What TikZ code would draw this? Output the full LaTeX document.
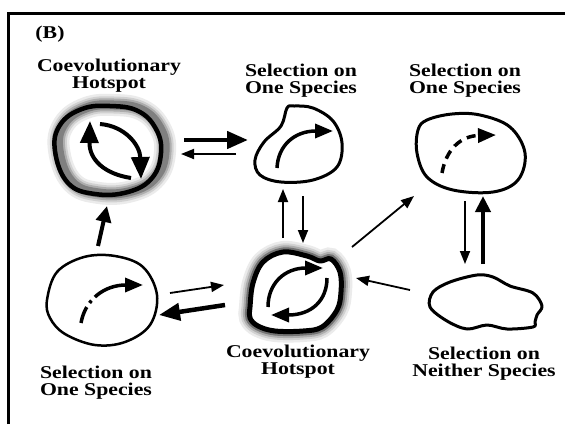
\documentclass[tikz,border=0pt]{standalone}
\usepackage{fontspec}
\newfontfamily\lbl{Liberation Serif}[FakeStretch=1.21]
\usetikzlibrary{arrows.meta}
\newcommand\tlshape[1]{\draw[#1] plot[smooth cycle, tension=0.7] coordinates {(55,151) (60,125) (82,109) (110,106) (138,111) (156,129) (161,153) (152,178) (128,192) (95,194) (68,183)};}
\newcommand\cshape[1]{\path[#1] plot[smooth cycle, tension=0.6] coordinates {(250,307) (253,283) (263,262) (283,252) (307,256) (320,261) (331,259) (340,272) (341,292) (337,310) (322,327) (303,331) (275,331) (258,326) (250,318)};}
\begin{document}
\begin{tikzpicture}[x=1pt,y=-1pt,
  lab/.style={align=center,font=\lbl\bfseries\fontsize{18}{17}\selectfont,inner sep=0pt},
  outline/.style={line width=3pt,line join=round},
  thickarr/.style={line width=4.5pt,-{Triangle[length=21pt,width=17pt]}},
  medarr/.style={line width=4pt,-{Triangle[length=16pt,width=15pt]}},
  thinarr/.style={line width=1.8pt,-{Triangle[length=13pt,width=10pt]}},
  inarr/.style={line width=4pt,-{Triangle[length=22pt,width=18pt]}},
  smallinarr/.style={line width=3.5pt,-{Triangle[length=18pt,width=14pt]}},
]
\useasboundingbox (0,0) rectangle (565,424);
\fill[white] (0,0) rectangle (565,424);
% frame
\draw[line width=3pt] (8.5,424) -- (8.5,13.5) -- (565,13.5);

% top-left hotspot
\begin{scope}[shift={(4,-1)}]
\tlshape{line width=22pt,black!8}
\tlshape{line width=17pt,black!18}
\tlshape{line width=13pt,black!32}
\tlshape{line width=9pt,black!50}
\end{scope}
\tlshape{line width=4.5pt,black}
\draw[inarr] (100,124) .. controls (125,126) and (140,145) .. (141,179);
\draw[inarr] (131,178) .. controls (105,174) and (89,160) .. (90,121);

% top-middle patch
\draw[outline] plot[smooth cycle, tension=0.6] coordinates {(287,108) (281,126) (264,142) (255,160) (260,175) (281,182) (313,180) (337,167) (342,143) (333,121) (313,108) (294,106)};
\draw[smallinarr] (277,168) .. controls (278,145) and (295,131) .. (333,131);

% top-right patch
\draw[outline] plot[smooth cycle, tension=0.6] coordinates {(427,120) (452,114) (480,115) (510,127) (525,153) (518,180) (493,192) (453,190) (427,177) (417,153) (418,130)};
\draw[smallinarr, dash pattern=on 9pt off 6pt] (442,173) .. controls (446,150) and (460,136) .. (496,135);

% bottom-left patch
\draw[outline, line width=2.5pt] plot[smooth cycle, tension=0.6] coordinates {(47,300) (57,272) (84,257) (115,256) (143,267) (157,295) (150,325) (125,342) (95,345) (65,334) (50,318)};
\draw[smallinarr, dash pattern=on 17pt off 5pt on 3pt off 5pt on 200pt] (81,323) .. controls (85,300) and (104,285) .. (143,285);

% bottom-centre hotspot
\cshape{draw,line width=22pt,black!8}
\cshape{draw,line width=17pt,black!18}
\cshape{draw,line width=13pt,black!32}
\cshape{draw,line width=9pt,black!55}
\cshape{fill=white}
\cshape{draw,line width=5pt,black,line join=round}
\draw[smallinarr] (268,307) .. controls (268,283) and (285,268) .. (323,268);
\draw[smallinarr] (327,278) .. controls (327,300) and (312,315) .. (271,315);

% bottom-right patch
\draw[outline] plot[smooth cycle, tension=0.55] coordinates {(450,282) (477,275) (493,277) (510,286) (533,293) (542,306) (537,315) (535,322) (533,327) (507,329) (487,325) (467,329) (447,321) (430,307) (433,292)};

% labels
\node[lab] (panel) at (50,34) {(B)};
\node[lab] (l1) at (109,76) {Coevolutionary\\Hotspot};
\node[lab] (l2) at (301,81) {Selection on\\One Species};
\node[lab] (l3) at (465,81) {Selection on\\One Species};
\node[lab] (l4) at (96,383) {Selection on\\One Species};
\node[lab] (l5) at (298,362) {Coevolutionary\\Hotspot};
\node[lab] (l6) at (484,364) {Selection on\\Neither Species};

% connector end points
\coordinate (a1s) at (184,140); \coordinate (a1e) at (248,140);
\coordinate (a2s) at (236,154); \coordinate (a2e) at (181,154);
\coordinate (a3s) at (283,238); \coordinate (a3e) at (283,189);
\coordinate (a4s) at (303,196); \coordinate (a4e) at (303,243);
\coordinate (a5s) at (352,247); \coordinate (a5e) at (414,196);
\coordinate (a6s) at (465,201); \coordinate (a6e) at (465,264);
\coordinate (a7s) at (483,264); \coordinate (a7e) at (483,196);
\coordinate (a8s) at (410,290); \coordinate (a8e) at (356,278);
\coordinate (a9s) at (170,293); \coordinate (a9e) at (224,285);
\coordinate (a10s) at (225,305); \coordinate (a10e) at (159,315);
\coordinate (a11s) at (98,246); \coordinate (a11e) at (107,206);

\draw[thickarr] (a1s) -- (a1e);
\draw[thinarr] (a2s) -- (a2e);
\draw[thinarr] (a3s) -- (a3e);
\draw[thinarr] (a4s) -- (a4e);
\draw[thinarr] (a5s) -- (a5e);
\draw[thinarr] (a6s) -- (a6e);
\draw[medarr] (a7s) -- (a7e);
\draw[thinarr] (a8s) -- (a8e);
\draw[thinarr] (a9s) -- (a9e);
\draw[thickarr] (a10s) -- (a10e);
\draw[medarr] (a11s) -- (a11e);
\end{tikzpicture}
\end{document}
